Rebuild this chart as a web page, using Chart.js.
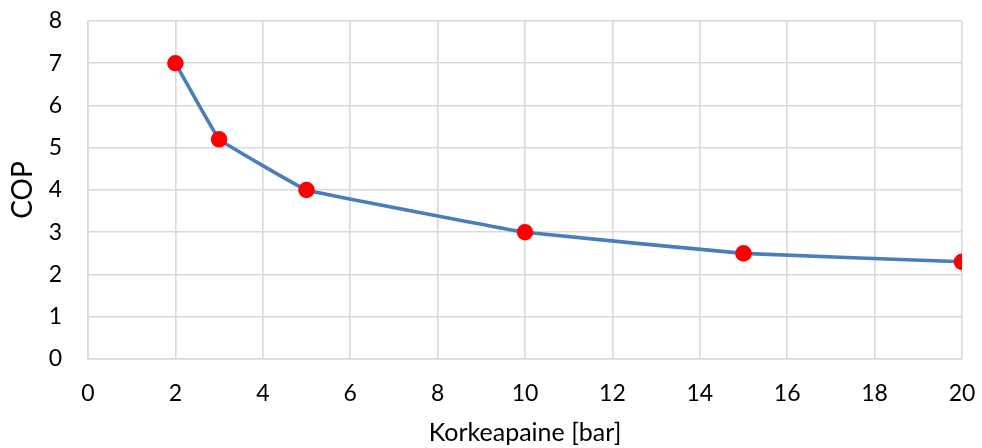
<!DOCTYPE html>
<html>
<head>
<meta charset="utf-8">
<script src="https://cdn.jsdelivr.net/npm/chart.js@4/dist/chart.umd.min.js"></script>
<style>
  html, body { margin: 0; padding: 0; background: #fff; }
  #wrap { width: 982px; height: 448px; }
</style>
</head>
<body>
<div id="wrap"><canvas id="copChart" width="982" height="448"></canvas></div>
<script>
// data
const pressures = [2, 3, 5, 10, 15, 20];
const copValues = [7, 5.2, 4, 3, 2.5, 2.3];
const xTicks = [0, 2, 4, 6, 8, 10, 12, 14, 16, 18, 20];
const yTicks = [0, 1, 2, 3, 4, 5, 6, 7, 8];

const gridColor = '#d9d9d9';
const fontFamily = "Lato, 'Open Sans', sans-serif";

// keep tick labels from pushing the plot area around
function noOverflow(axis) {
    axis.paddingTop = 0;
    axis.paddingBottom = 0;
    axis.paddingLeft = 0;
    axis.paddingRight = 0;
}

const ctx = document.getElementById('copChart').getContext('2d');
new Chart(ctx, {
    type: 'scatter',
    data: {
        datasets: [{
            label: 'COP',
            data: pressures.map((p, i) => ({ x: p, y: copValues[i] })),
            showLine: true,
            borderColor: '#4a7ebb',
            borderWidth: 3.6,
            tension: 0.05,
            pointBackgroundColor: '#ff0000',
            pointBorderColor: '#ff0000',
            pointRadius: 6.5,
            pointHoverRadius: 6.5,
        }],
    },
    options: {
        responsive: false,
        animation: false,
        layout: { padding: { top: 21, right: 20, bottom: 0, left: 0 } },
        plugins: { legend: { display: false }, tooltip: { enabled: false } },
        scales: {
            x: {
                type: 'linear',
                min: xTicks[0],
                max: xTicks[xTicks.length - 1],
                afterBuildTicks: axis => { axis.ticks = xTicks.map(v => ({ value: v })); },
                grid: { color: gridColor, lineWidth: 1.6, drawTicks: false },
                border: { color: gridColor, width: 1.6 },
                ticks: { color: '#000', font: { family: fontFamily, size: 23 }, padding: 21, maxRotation: 0 },
                title: { display: true, text: 'Korkeapaine [bar]', color: '#000', font: { family: fontFamily, size: 25 }, padding: { top: 4, bottom: 0 } },
                afterFit: axis => { axis.height = 89; noOverflow(axis); },
            },
            y: {
                min: yTicks[0],
                max: yTicks[yTicks.length - 1],
                afterBuildTicks: axis => { axis.ticks = yTicks.map(v => ({ value: v })); },
                grid: { color: gridColor, lineWidth: 1.6, drawTicks: false },
                border: { color: gridColor, width: 1.6 },
                ticks: { color: '#000', font: { family: fontFamily, size: 23 }, padding: 26 },
                title: { display: true, text: 'COP', color: '#000', font: { family: fontFamily, size: 28 }, padding: { top: 6, bottom: 0 } },
                afterFit: axis => { axis.width = 88; noOverflow(axis); },
            },
        },
    },
});
</script>
</body>
</html>
